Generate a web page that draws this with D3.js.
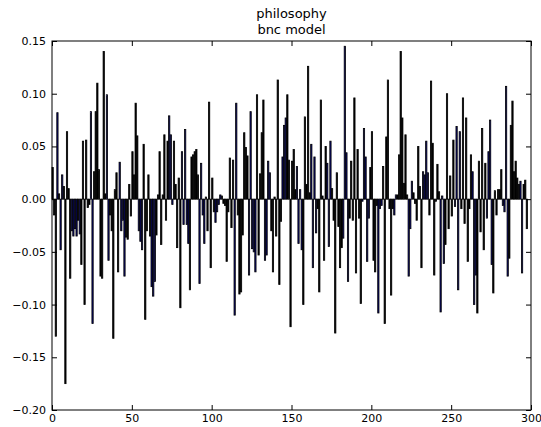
<!DOCTYPE html>
<html>
<head>
<meta charset="utf-8">
<script src="https://cdn.jsdelivr.net/npm/d3@7"></script>
<style>
  body { margin: 0; background: #fff; }
  text { font-family: "DejaVu Sans", sans-serif; }
</style>
</head>
<body>
<svg id="chart" width="541" height="427"></svg>
<script>
const titleLines = ["philosophy", "bnc model"];
const xTicks = [0, 50, 100, 150, 200, 250, 300];
const yTicks = [-0.20, -0.15, -0.10, -0.05, 0.00, 0.05, 0.10, 0.15];

// one value per bar, index = position on the x axis
const values = [
  0.03, -0.015, -0.13, 0.082, 0.005, -0.048, 0.023, 0.012, -0.175, 0.064,
  0.01, -0.075, -0.03, -0.035, -0.028, -0.035, -0.02, -0.033, -0.062, 0.055,
  -0.1, 0.056, -0.008, -0.005, 0.083,
  -0.118, 0.026, 0.083, 0.11, 0.028, -0.073, -0.075, 0.14, 0.005, 0.099,
  -0.058, -0.015, -0.03, -0.132, 0.009, 0.025, -0.069, 0.035, -0.03, -0.02,
  -0.073, -0.036, -0.038, 0.014,
  -0.016, 0.045, 0.023, 0.091, 0.06, -0.03, -0.04, -0.048, 0.052, -0.114,
  -0.03, 0.023, -0.035, -0.083, -0.092, -0.078, -0.034, 0.004, 0.045, -0.043,
  0.004, 0.061, -0.02, 0.055,
  0.079, 0.061, -0.005, 0.055, 0.014, -0.046, 0.02, -0.103, 0.045, -0.024,
  0.066, -0.024, -0.042, -0.086, 0.04, 0.042, 0.045, 0.047, 0.023, -0.08,
  0.034, -0.015, -0.042, 0.002, -0.03, 0.092,
  -0.065, 0.02, -0.012, -0.022, -0.012, -0.005, 0.004, 0.003, -0.004, -0.006,
  -0.059, -0.012, 0.039, -0.027, 0.037, -0.11, 0.091, -0.015, -0.09, -0.088,
  -0.034, 0.063, 0.049, 0.041, -0.072, 0.083,
  -0.047, -0.05, -0.069, 0.099, -0.053, 0.024, 0.063, 0.094, -0.058, -0.053,
  0.036, 0.025, -0.03, -0.069, 0.002, -0.035, 0.113, -0.081, -0.021, 0.04,
  0.07, 0.077, 0.099, 0.037, -0.121,
  0.036, 0.047, 0.009, 0.031, -0.042, 0.009, -0.048, -0.1, 0.078, 0.014,
  0.126, 0.006, 0.052, -0.065, 0.04, -0.032, -0.009, -0.088, 0.094, 0.003,
  -0.058, 0.05, 0.034, -0.045,
  0.055, 0.01, -0.02, -0.127, 0.025, -0.026, -0.065, -0.046, -0.037, 0.145,
  0.044, -0.078, -0.018, 0.036, -0.02, 0.096, -0.07, 0.047, -0.018, -0.099,
  -0.002, 0.067, 0.04, -0.059, -0.018, 0.03,
  0.064, -0.058, -0.069, -0.006, -0.108, -0.009, -0.006, 0.031, -0.118, 0.059,
  0.113, -0.009, -0.091, -0.009, -0.015, 0.004, 0.004, 0.042, 0.14, 0.077,
  0.015, 0.061, 0.004, -0.073, -0.028, 0.017,
  0.006, -0.004, -0.02, 0.05, 0.012, -0.065, 0.026, 0.023, 0.055, 0.025,
  -0.015, 0.112, 0.053, -0.072, -0.002, 0.033, 0.007, -0.107, 0.003, -0.061,
  -0.043, 0.1, -0.028, 0.022,
  -0.016, 0.056, -0.007, 0.069, -0.086, 0.064, -0.009, 0.096, -0.023, 0.077,
  -0.059, -0.009, 0.042, 0.026, -0.1, -0.072, -0.108, 0.036, -0.031, 0.067,
  -0.048, 0.034, -0.018, 0.045, 0.075,
  -0.062, -0.089, 0.008, -0.015, 0.009, 0.009, 0.028, -0.006, -0.012, 0.107,
  -0.073, -0.056, 0.07, 0.093, 0.026, 0.036, 0.02, 0.014, 0.017, -0.07,
  0.014, 0.018, -0.028
];

// bars drawn in navy instead of black
const blueBars = [
  3, 5, 6, 12, 13, 14, 15, 17, 24, 25, 34, 35, 42, 43, 44, 45,
  54, 55, 56, 62, 63, 64, 73, 74, 75, 81, 82, 83, 84, 85, 92, 93, 94, 95,
  102, 103, 104, 105, 114, 115, 123, 124, 125, 126, 127, 133, 134, 135, 136,
  144, 145, 146, 153, 154, 155, 156, 162, 163, 164, 165, 172, 173, 174,
  182, 183, 184, 185, 194, 195, 196, 197, 198, 204, 205, 206, 214, 215,
  223, 224, 225, 232, 233, 234, 235, 243, 244, 245, 252, 253, 254, 255,
  263, 264, 265, 272, 273, 274, 275, 282, 283, 284, 285, 293, 294
];

const margin = { top: 41, right: 10, bottom: 17, left: 52 };
const W = 541, H = 427;
const svg = d3.select("#chart");

const x = d3.scaleLinear().domain([0, 300]).range([margin.left, W - margin.right]);
const y = d3.scaleLinear().domain([-0.2, 0.15]).range([H - margin.bottom, margin.top]);

const blueSet = new Set(blueBars);
const data = values.map((v, i) => ({ i, v, blue: blueSet.has(i) }));

const plot = svg.append("g");
plot.selectAll("rect.bar")
  .data(data)
  .enter().append("rect")
  .attr("class", "bar")
  .attr("x", d => x(d.i))
  .attr("width", x(0.8) - x(0))
  .attr("y", d => y(Math.max(d.v, 0)))
  .attr("height", d => Math.abs(y(d.v) - y(0)))
  .attr("fill", d => d.blue ? "#0a0a78" : "#000")
  .attr("stroke", "#000")
  .attr("stroke-width", 0.8);

// axes with inward ticks on all four sides
function style(g) {
  g.select(".domain").remove();
  g.selectAll("line").attr("stroke", "#000");
  g.selectAll("text").attr("fill", "#000").attr("font-size", 11)
    .attr("font-family", "DejaVu Sans, sans-serif");
}
svg.append("g")
  .attr("transform", `translate(0,${H - margin.bottom})`)
  .call(d3.axisBottom(x).tickValues(xTicks).tickFormat(d3.format("d")).tickSizeInner(-5).tickSizeOuter(0).tickPadding(4))
  .call(style);
svg.append("g")
  .attr("transform", `translate(0,${margin.top})`)
  .call(d3.axisTop(x).tickValues(xTicks).tickFormat("").tickSizeInner(-5).tickSizeOuter(0))
  .call(style);
svg.append("g")
  .attr("transform", `translate(${margin.left},0)`)
  .call(d3.axisLeft(y).tickValues(yTicks).tickFormat(d3.format(".2f")).tickSizeInner(-5).tickSizeOuter(0).tickPadding(6))
  .call(style);
svg.append("g")
  .attr("transform", `translate(${W - margin.right},0)`)
  .call(d3.axisRight(y).tickValues(yTicks).tickFormat("").tickSizeInner(-5).tickSizeOuter(0))
  .call(style);

svg.append("rect")
  .attr("x", margin.left).attr("y", margin.top)
  .attr("width", W - margin.left - margin.right)
  .attr("height", H - margin.top - margin.bottom)
  .attr("fill", "none").attr("stroke", "#000").attr("stroke-width", 1);

svg.selectAll("text.title")
  .data(titleLines)
  .enter().append("text")
  .attr("class", "title")
  .attr("x", (margin.left + W - margin.right) / 2)
  .attr("y", (d, k) => 18 + k * 16)
  .attr("text-anchor", "middle")
  .attr("font-size", 13)
  .text(d => d);
</script>
</body>
</html>
